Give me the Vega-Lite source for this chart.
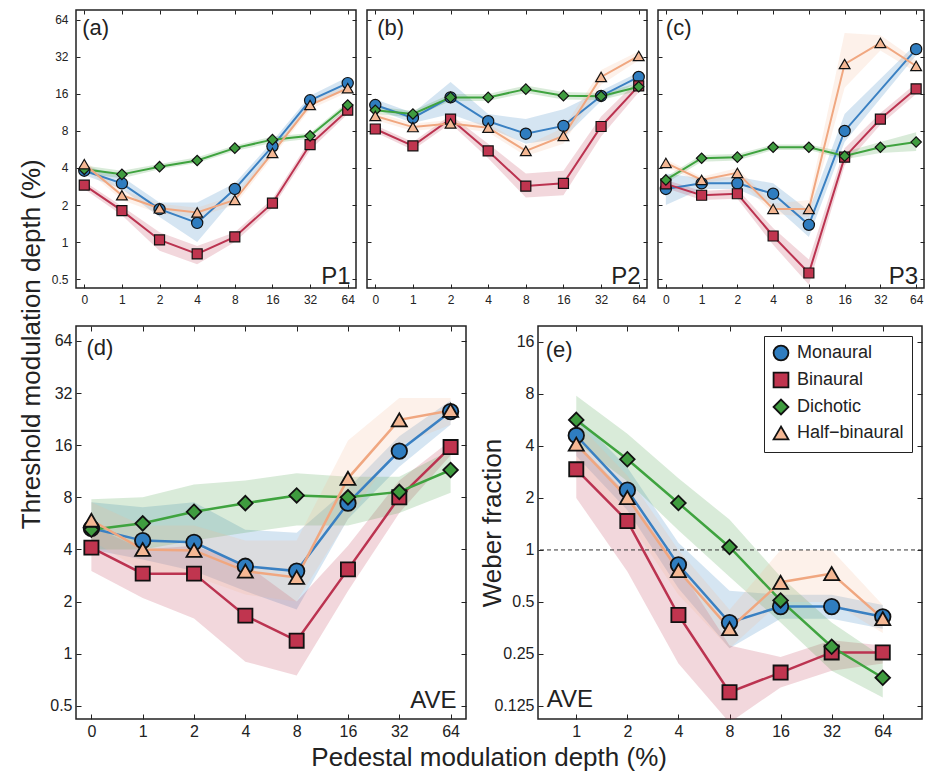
{
  "$schema": "https://vega.github.io/schema/vega-lite/v6.json",
  "padding": {"left": 19, "top": 8, "right": 0, "bottom": 4},
  "config": {
    "font": "Liberation Sans",
    "view": {"stroke": "#222", "strokeWidth": 1.5},
    "axis": {"grid": false, "domain": false, "tickColor": "#222", "labelColor": "#222", "titleColor": "#222", "titleFontWeight": "normal", "labelFont": "Liberation Sans", "titleFont": "Liberation Sans"},
    "title": {"fontWeight": "normal", "color": "#222", "font": "Liberation Sans"},
    "legend": {"labelFontSize": 18, "labelFont": "Liberation Sans", "labelColor": "#222", "symbolSize": 220, "symbolStrokeColor": "#111", "symbolStrokeWidth": 1.8, "strokeColor": "#222", "padding": 8, "rowPadding": 3, "labelOffset": 7, "fillColor": "white", "symbolOpacity": 1}
  },
  "datasets": {
    "a": [
      {"cond":"Monaural","ped":0,"thr":3.8,"lo":3.5,"hi":4.2},{"cond":"Monaural","ped":1,"thr":3.0,"lo":2.7,"hi":3.4},{"cond":"Monaural","ped":2,"thr":1.85,"lo":1.6,"hi":2.1},{"cond":"Monaural","ped":4,"thr":1.43,"lo":1.0,"hi":2.1},{"cond":"Monaural","ped":8,"thr":2.7,"lo":2.3,"hi":3.0},{"cond":"Monaural","ped":16,"thr":6.0,"lo":5.2,"hi":6.6},{"cond":"Monaural","ped":32,"thr":14.2,"lo":13,"hi":15.5},{"cond":"Monaural","ped":64,"thr":19.6,"lo":17.5,"hi":22},
      {"cond":"Binaural","ped":0,"thr":2.9,"lo":2.7,"hi":3.1},{"cond":"Binaural","ped":1,"thr":1.8,"lo":1.65,"hi":1.95},{"cond":"Binaural","ped":2,"thr":1.04,"lo":0.85,"hi":1.2},{"cond":"Binaural","ped":4,"thr":0.8,"lo":0.66,"hi":0.93},{"cond":"Binaural","ped":8,"thr":1.1,"lo":1.0,"hi":1.2},{"cond":"Binaural","ped":16,"thr":2.07,"lo":1.9,"hi":2.25},{"cond":"Binaural","ped":32,"thr":6.2,"lo":5.6,"hi":6.8},{"cond":"Binaural","ped":64,"thr":11.8,"lo":11,"hi":12.6},
      {"cond":"Dichotic","ped":0,"thr":3.9,"lo":3.6,"hi":4.2},{"cond":"Dichotic","ped":1,"thr":3.55,"lo":3.3,"hi":3.8},{"cond":"Dichotic","ped":2,"thr":4.1,"lo":3.9,"hi":4.3},{"cond":"Dichotic","ped":4,"thr":4.6,"lo":4.4,"hi":4.9},{"cond":"Dichotic","ped":8,"thr":5.8,"lo":5.5,"hi":6.1},{"cond":"Dichotic","ped":16,"thr":6.8,"lo":6.4,"hi":7.2},{"cond":"Dichotic","ped":32,"thr":7.3,"lo":6.9,"hi":7.7},{"cond":"Dichotic","ped":64,"thr":13,"lo":12.2,"hi":13.8},
      {"cond":"Half−binaural","ped":0,"thr":4.3,"lo":4.0,"hi":4.6},{"cond":"Half−binaural","ped":1,"thr":2.4,"lo":2.2,"hi":2.65},{"cond":"Half−binaural","ped":2,"thr":1.88,"lo":1.7,"hi":2.05},{"cond":"Half−binaural","ped":4,"thr":1.74,"lo":1.6,"hi":1.9},{"cond":"Half−binaural","ped":8,"thr":2.2,"lo":2.0,"hi":2.4},{"cond":"Half−binaural","ped":16,"thr":5.3,"lo":4.9,"hi":5.7},{"cond":"Half−binaural","ped":32,"thr":13,"lo":12,"hi":14},{"cond":"Half−binaural","ped":64,"thr":17.8,"lo":16.5,"hi":19}
    ],
    "b": [
      {"cond":"Monaural","ped":0,"thr":13,"lo":12,"hi":14.5},{"cond":"Monaural","ped":1,"thr":10.2,"lo":9.3,"hi":11.2},{"cond":"Monaural","ped":2,"thr":15,"lo":11,"hi":20},{"cond":"Monaural","ped":4,"thr":9.6,"lo":8.5,"hi":11},{"cond":"Monaural","ped":8,"thr":7.6,"lo":6.3,"hi":10},{"cond":"Monaural","ped":16,"thr":8.8,"lo":7,"hi":12},{"cond":"Monaural","ped":32,"thr":15.4,"lo":14,"hi":17},{"cond":"Monaural","ped":64,"thr":22,"lo":20,"hi":24},
      {"cond":"Binaural","ped":0,"thr":8.3,"lo":7.8,"hi":8.9},{"cond":"Binaural","ped":1,"thr":6.05,"lo":5.6,"hi":6.5},{"cond":"Binaural","ped":2,"thr":10,"lo":9.2,"hi":10.8},{"cond":"Binaural","ped":4,"thr":5.5,"lo":4.8,"hi":6.3},{"cond":"Binaural","ped":8,"thr":2.85,"lo":2.3,"hi":3.6},{"cond":"Binaural","ped":16,"thr":3.0,"lo":2.4,"hi":3.8},{"cond":"Binaural","ped":32,"thr":8.7,"lo":7.2,"hi":10.5},{"cond":"Binaural","ped":64,"thr":18.6,"lo":16.5,"hi":21},
      {"cond":"Dichotic","ped":0,"thr":11.8,"lo":11,"hi":12.6},{"cond":"Dichotic","ped":1,"thr":11,"lo":10.3,"hi":11.7},{"cond":"Dichotic","ped":2,"thr":15,"lo":14,"hi":16},{"cond":"Dichotic","ped":4,"thr":15,"lo":14,"hi":16},{"cond":"Dichotic","ped":8,"thr":17.5,"lo":16.3,"hi":18.7},{"cond":"Dichotic","ped":16,"thr":15.5,"lo":14.4,"hi":16.6},{"cond":"Dichotic","ped":32,"thr":15.3,"lo":14.3,"hi":16.3},{"cond":"Dichotic","ped":64,"thr":18.3,"lo":17,"hi":19.6},
      {"cond":"Half−binaural","ped":0,"thr":10.6,"lo":9.8,"hi":11.4},{"cond":"Half−binaural","ped":1,"thr":8.6,"lo":8,"hi":9.2},{"cond":"Half−binaural","ped":2,"thr":9.2,"lo":8.6,"hi":9.8},{"cond":"Half−binaural","ped":4,"thr":8.5,"lo":7.8,"hi":9.2},{"cond":"Half−binaural","ped":8,"thr":5.5,"lo":5,"hi":6.1},{"cond":"Half−binaural","ped":16,"thr":7.3,"lo":6.3,"hi":8.5},{"cond":"Half−binaural","ped":32,"thr":22,"lo":19,"hi":25},{"cond":"Half−binaural","ped":64,"thr":32.6,"lo":30,"hi":35.5}
    ],
    "c": [
      {"cond":"Monaural","ped":0,"thr":2.7,"lo":2.0,"hi":3.6},{"cond":"Monaural","ped":1,"thr":3.0,"lo":2.7,"hi":3.3},{"cond":"Monaural","ped":2,"thr":3.0,"lo":2.7,"hi":3.4},{"cond":"Monaural","ped":4,"thr":2.47,"lo":2.0,"hi":3.0},{"cond":"Monaural","ped":8,"thr":1.38,"lo":1.1,"hi":1.8},{"cond":"Monaural","ped":16,"thr":8.0,"lo":6.5,"hi":11},{"cond":"Monaural","ped":64,"thr":37,"lo":33,"hi":41},
      {"cond":"Binaural","ped":0,"thr":2.97,"lo":2.75,"hi":3.2},{"cond":"Binaural","ped":1,"thr":2.4,"lo":2.2,"hi":2.6},{"cond":"Binaural","ped":2,"thr":2.47,"lo":2.25,"hi":2.7},{"cond":"Binaural","ped":4,"thr":1.12,"lo":0.95,"hi":1.3},{"cond":"Binaural","ped":8,"thr":0.56,"lo":0.45,"hi":0.72},{"cond":"Binaural","ped":16,"thr":4.9,"lo":4.2,"hi":5.8},{"cond":"Binaural","ped":32,"thr":10,"lo":9,"hi":11.2},{"cond":"Binaural","ped":64,"thr":17.6,"lo":16,"hi":19.5},
      {"cond":"Dichotic","ped":0,"thr":3.2,"lo":3.0,"hi":3.4},{"cond":"Dichotic","ped":1,"thr":4.8,"lo":4.5,"hi":5.1},{"cond":"Dichotic","ped":2,"thr":4.9,"lo":4.6,"hi":5.2},{"cond":"Dichotic","ped":4,"thr":5.9,"lo":5.6,"hi":6.2},{"cond":"Dichotic","ped":8,"thr":5.9,"lo":5.6,"hi":6.2},{"cond":"Dichotic","ped":16,"thr":5.0,"lo":4.7,"hi":5.4},{"cond":"Dichotic","ped":32,"thr":5.9,"lo":5.3,"hi":6.5},{"cond":"Dichotic","ped":64,"thr":6.5,"lo":5.5,"hi":7.8},
      {"cond":"Half−binaural","ped":0,"thr":4.4,"lo":4.1,"hi":4.7},{"cond":"Half−binaural","ped":1,"thr":3.2,"lo":3.0,"hi":3.4},{"cond":"Half−binaural","ped":2,"thr":3.65,"lo":3.3,"hi":4.0},{"cond":"Half−binaural","ped":4,"thr":1.86,"lo":1.7,"hi":2.05},{"cond":"Half−binaural","ped":8,"thr":1.86,"lo":1.6,"hi":2.2},{"cond":"Half−binaural","ped":16,"thr":28,"lo":18,"hi":50},{"cond":"Half−binaural","ped":32,"thr":41.6,"lo":36,"hi":48},{"cond":"Half−binaural","ped":64,"thr":27,"lo":24,"hi":30}
    ],
    "d": [
      {"cond":"Monaural","ped":0,"thr":5.3,"lo":4.0,"hi":7.5},{"cond":"Monaural","ped":1,"thr":4.5,"lo":3.5,"hi":7.0},{"cond":"Monaural","ped":2,"thr":4.4,"lo":3.0,"hi":7.5},{"cond":"Monaural","ped":4,"thr":3.2,"lo":2.3,"hi":5.2},{"cond":"Monaural","ped":8,"thr":3.0,"lo":1.8,"hi":5.0},{"cond":"Monaural","ped":16,"thr":7.4,"lo":6.0,"hi":9.0},{"cond":"Monaural","ped":32,"thr":14.8,"lo":12,"hi":18},{"cond":"Monaural","ped":64,"thr":25,"lo":21,"hi":29},
      {"cond":"Binaural","ped":0,"thr":4.1,"lo":3.0,"hi":5.5},{"cond":"Binaural","ped":1,"thr":2.9,"lo":2.1,"hi":4.0},{"cond":"Binaural","ped":2,"thr":2.9,"lo":1.6,"hi":4.2},{"cond":"Binaural","ped":4,"thr":1.66,"lo":0.9,"hi":3.3},{"cond":"Binaural","ped":8,"thr":1.19,"lo":0.75,"hi":2.0},{"cond":"Binaural","ped":16,"thr":3.07,"lo":2.3,"hi":4.2},{"cond":"Binaural","ped":32,"thr":8.0,"lo":6.5,"hi":10},{"cond":"Binaural","ped":64,"thr":15.6,"lo":14,"hi":17},
      {"cond":"Dichotic","ped":0,"thr":5.2,"lo":4.0,"hi":7.8},{"cond":"Dichotic","ped":1,"thr":5.66,"lo":4.0,"hi":8.0},{"cond":"Dichotic","ped":2,"thr":6.6,"lo":4.5,"hi":9.5},{"cond":"Dichotic","ped":4,"thr":7.4,"lo":5.0,"hi":10},{"cond":"Dichotic","ped":8,"thr":8.2,"lo":5.5,"hi":11},{"cond":"Dichotic","ped":16,"thr":8.0,"lo":5.5,"hi":10.5},{"cond":"Dichotic","ped":32,"thr":8.6,"lo":6.5,"hi":10.5},{"cond":"Dichotic","ped":64,"thr":11.5,"lo":8.5,"hi":15},
      {"cond":"Half−binaural","ped":0,"thr":5.9,"lo":4.5,"hi":7.5},{"cond":"Half−binaural","ped":1,"thr":4.0,"lo":3.0,"hi":5.5},{"cond":"Half−binaural","ped":2,"thr":3.95,"lo":2.8,"hi":5.5},{"cond":"Half−binaural","ped":4,"thr":3.0,"lo":2.2,"hi":4.5},{"cond":"Half−binaural","ped":8,"thr":2.76,"lo":2.0,"hi":4.5},{"cond":"Half−binaural","ped":16,"thr":10.3,"lo":6,"hi":17},{"cond":"Half−binaural","ped":32,"thr":22.4,"lo":16,"hi":30},{"cond":"Half−binaural","ped":64,"thr":25.4,"lo":21,"hi":30}
    ],
    "e": [
      {"cond":"Monaural","ped":1,"thr":4.6,"lo":3.5,"hi":6},{"cond":"Monaural","ped":2,"thr":2.22,"lo":1.7,"hi":3.0},{"cond":"Monaural","ped":4,"thr":0.82,"lo":0.6,"hi":1.1},{"cond":"Monaural","ped":8,"thr":0.38,"lo":0.27,"hi":0.58},{"cond":"Monaural","ped":16,"thr":0.47,"lo":0.4,"hi":0.55},{"cond":"Monaural","ped":32,"thr":0.47,"lo":0.4,"hi":0.55},{"cond":"Monaural","ped":64,"thr":0.41,"lo":0.35,"hi":0.48},
      {"cond":"Binaural","ped":1,"thr":2.93,"lo":2.0,"hi":4.2},{"cond":"Binaural","ped":2,"thr":1.47,"lo":0.75,"hi":2.1},{"cond":"Binaural","ped":4,"thr":0.42,"lo":0.22,"hi":0.8},{"cond":"Binaural","ped":8,"thr":0.15,"lo":0.1,"hi":0.28},{"cond":"Binaural","ped":16,"thr":0.195,"lo":0.16,"hi":0.24},{"cond":"Binaural","ped":32,"thr":0.255,"lo":0.2,"hi":0.3},{"cond":"Binaural","ped":64,"thr":0.255,"lo":0.22,"hi":0.28},
      {"cond":"Dichotic","ped":1,"thr":5.66,"lo":4.2,"hi":7.8},{"cond":"Dichotic","ped":2,"thr":3.35,"lo":2.5,"hi":4.7},{"cond":"Dichotic","ped":4,"thr":1.87,"lo":1.3,"hi":2.6},{"cond":"Dichotic","ped":8,"thr":1.04,"lo":0.7,"hi":1.5},{"cond":"Dichotic","ped":16,"thr":0.51,"lo":0.38,"hi":0.7},{"cond":"Dichotic","ped":32,"thr":0.275,"lo":0.2,"hi":0.38},{"cond":"Dichotic","ped":64,"thr":0.182,"lo":0.14,"hi":0.24},
      {"cond":"Half−binaural","ped":1,"thr":4.1,"lo":3,"hi":5.5},{"cond":"Half−binaural","ped":2,"thr":2.01,"lo":1.5,"hi":2.7},{"cond":"Half−binaural","ped":4,"thr":0.76,"lo":0.55,"hi":1.0},{"cond":"Half−binaural","ped":8,"thr":0.35,"lo":0.27,"hi":0.45},{"cond":"Half−binaural","ped":16,"thr":0.65,"lo":0.5,"hi":1.0},{"cond":"Half−binaural","ped":32,"thr":0.73,"lo":0.5,"hi":1.0},{"cond":"Half−binaural","ped":64,"thr":0.4,"lo":0.33,"hi":0.48}
    ]
  },
  "title": {"text": "Pedestal modulation depth (%)", "orient": "bottom", "anchor": "middle", "fontSize": 26, "offset": 5, "dx": 17},
  "resolve": {"scale": {"x": "independent", "y": "independent", "size": "independent"}, "legend": {"fill": "independent", "shape": "independent"}},
  "vconcat": [
    {
      "title": {"text": "Threshold modulation depth (%)", "orient": "left", "anchor": "middle", "fontSize": 26, "offset": 4, "dx": 30},
      "spacing": 18,
      "resolve": {"scale": {"x": "independent", "y": "independent", "size": "independent"}, "legend": {"fill": "independent", "shape": "independent"}},
      "vconcat": [
        {
          "hconcat": [
            {
              "width": 280, "height": 278, "data": {"name": "a"},
              "resolve": {"axis": {"x": "independent", "y": "independent"}},
              "layer": [
                {"mark": {"type": "area", "opacity": 0.2, "clip": true},
                 "encoding": {
                   "x": {"field": "ped", "type": "ordinal", "scale": {"type": "point", "domain": [0,1,2,4,8,16,32,64], "padding": 0.22}, "axis": {"orient": "bottom", "title": null, "labelAngle": 0, "tickSize": -4, "labelPadding": 10, "labelFontSize": 12}},
                   "y": {"field": "lo", "type": "quantitative", "scale": {"type": "log", "base": 2, "domain": [0.423, 77], "nice": false}, "axis": {"orient": "left", "title": null, "values": [0.5,1,2,4,8,16,32,64], "format": "~g", "tickSize": -4, "labelPadding": 12, "labelFontSize": 12}},
                   "y2": {"field": "hi"},
                   "color": {"field": "cond", "type": "nominal", "scale": {"range": ["#c0354f","#3f9c3f","#f5b894","#2f7dc0"]}, "legend": null}
                 }},
                {"mark": {"type": "line", "strokeWidth": 2, "clip": true},
                 "encoding": {
                   "x": {"field": "ped", "type": "ordinal", "axis": {"orient": "top", "title": null, "labels": false, "tickSize": -4}},
                   "y": {"field": "thr", "type": "quantitative", "axis": {"orient": "right", "title": null, "labels": false, "values": [0.5,1,2,4,8,16,32,64], "tickSize": -4}},
                   "stroke": {"field": "cond", "type": "nominal", "scale": {"range": ["#bb3350","#3fa33f","#f0a780","#3a80c2"]}, "legend": null}
                 }},
                {"mark": {"type": "point", "filled": true, "opacity": 1, "stroke": "#111", "strokeWidth": 1.2},
                 "encoding": {
                   "x": {"field": "ped", "type": "ordinal", "axis": null},
                   "y": {"field": "thr", "type": "quantitative", "axis": null},
                   "fill": {"field": "cond", "type": "nominal", "scale": {"domain": ["Monaural","Binaural","Dichotic","Half−binaural"], "range": ["#2f7dc0","#c0354f","#3f9c3f","#f5b894"]}, "legend": null},
                   "shape": {"field": "cond", "type": "nominal", "scale": {"domain": ["Monaural","Binaural","Dichotic","Half−binaural"], "range": ["circle","square","diamond","triangle-up"]}, "legend": null},
                   "size": {"field": "cond", "type": "nominal", "scale": {"range": [100, 125, 180, 115]}, "legend": null}
                 }},
                {"data": {"values": [{}]},
                 "mark": {"type": "text", "text": "(a)", "align": "left", "baseline": "middle", "fontSize": 22, "dx": -2, "dy": 8, "color": "#222"},
                 "encoding": {"x": {"datum": 0, "type": "ordinal", "axis": null}, "y": {"datum": 64, "type": "quantitative", "axis": null}}},
                {"data": {"values": [{}]},
                 "mark": {"type": "text", "text": "P1", "align": "right", "baseline": "alphabetic", "fontSize": 24, "dx": 3, "dy": 5, "color": "#222"},
                 "encoding": {"x": {"datum": 64, "type": "ordinal", "axis": null}, "y": {"datum": 0.5, "type": "quantitative", "axis": null}}}
              ]
            },
            {
              "width": 280, "height": 278, "data": {"name": "b"},
              "resolve": {"axis": {"x": "independent", "y": "independent"}},
              "layer": [
                {"mark": {"type": "area", "opacity": 0.2, "clip": true},
                 "encoding": {
                   "x": {"field": "ped", "type": "ordinal", "scale": {"type": "point", "domain": [0,1,2,4,8,16,32,64], "padding": 0.22}, "axis": {"orient": "bottom", "title": null, "labelAngle": 0, "tickSize": -4, "labelPadding": 10, "labelFontSize": 12}},
                   "y": {"field": "lo", "type": "quantitative", "scale": {"type": "log", "base": 2, "domain": [0.423, 77], "nice": false}, "axis": {"orient": "left", "title": null, "labels": false, "values": [0.5,1,2,4,8,16,32,64], "tickSize": -4}},
                   "y2": {"field": "hi"},
                   "color": {"field": "cond", "type": "nominal", "scale": {"range": ["#c0354f","#3f9c3f","#f5b894","#2f7dc0"]}, "legend": null}
                 }},
                {"mark": {"type": "line", "strokeWidth": 2, "clip": true},
                 "encoding": {
                   "x": {"field": "ped", "type": "ordinal", "axis": {"orient": "top", "title": null, "labels": false, "tickSize": -4}},
                   "y": {"field": "thr", "type": "quantitative", "axis": {"orient": "right", "title": null, "labels": false, "values": [0.5,1,2,4,8,16,32,64], "tickSize": -4}},
                   "stroke": {"field": "cond", "type": "nominal", "scale": {"range": ["#bb3350","#3fa33f","#f0a780","#3a80c2"]}, "legend": null}
                 }},
                {"mark": {"type": "point", "filled": true, "opacity": 1, "stroke": "#111", "strokeWidth": 1.2},
                 "encoding": {
                   "x": {"field": "ped", "type": "ordinal", "axis": null},
                   "y": {"field": "thr", "type": "quantitative", "axis": null},
                   "fill": {"field": "cond", "type": "nominal", "scale": {"domain": ["Monaural","Binaural","Dichotic","Half−binaural"], "range": ["#2f7dc0","#c0354f","#3f9c3f","#f5b894"]}, "legend": null},
                   "shape": {"field": "cond", "type": "nominal", "scale": {"domain": ["Monaural","Binaural","Dichotic","Half−binaural"], "range": ["circle","square","diamond","triangle-up"]}, "legend": null},
                   "size": {"field": "cond", "type": "nominal", "scale": {"range": [100, 125, 180, 115]}, "legend": null}
                 }},
                {"data": {"values": [{}]},
                 "mark": {"type": "text", "text": "(b)", "align": "left", "baseline": "middle", "fontSize": 22, "dx": 2, "dy": 8, "color": "#222"},
                 "encoding": {"x": {"datum": 0, "type": "ordinal", "axis": null}, "y": {"datum": 64, "type": "quantitative", "axis": null}}},
                {"data": {"values": [{}]},
                 "mark": {"type": "text", "text": "P2", "align": "right", "baseline": "alphabetic", "fontSize": 24, "dx": 2, "dy": 5, "color": "#222"},
                 "encoding": {"x": {"datum": 64, "type": "ordinal", "axis": null}, "y": {"datum": 0.5, "type": "quantitative", "axis": null}}}
              ]
            },
            {
              "width": 266, "height": 278, "data": {"name": "c"},
              "resolve": {"axis": {"x": "independent", "y": "independent"}},
              "layer": [
                {"mark": {"type": "area", "opacity": 0.2, "clip": true},
                 "encoding": {
                   "x": {"field": "ped", "type": "ordinal", "scale": {"type": "point", "domain": [0,1,2,4,8,16,32,64], "padding": 0.22}, "axis": {"orient": "bottom", "title": null, "labelAngle": 0, "tickSize": -4, "labelPadding": 10, "labelFontSize": 12}},
                   "y": {"field": "lo", "type": "quantitative", "scale": {"type": "log", "base": 2, "domain": [0.423, 77], "nice": false}, "axis": {"orient": "left", "title": null, "labels": false, "values": [0.5,1,2,4,8,16,32,64], "tickSize": -4}},
                   "y2": {"field": "hi"},
                   "color": {"field": "cond", "type": "nominal", "scale": {"range": ["#c0354f","#3f9c3f","#f5b894","#2f7dc0"]}, "legend": null}
                 }},
                {"mark": {"type": "line", "strokeWidth": 2, "clip": true},
                 "encoding": {
                   "x": {"field": "ped", "type": "ordinal", "axis": {"orient": "top", "title": null, "labels": false, "tickSize": -4}},
                   "y": {"field": "thr", "type": "quantitative", "axis": {"orient": "right", "title": null, "labels": false, "values": [0.5,1,2,4,8,16,32,64], "tickSize": -4}},
                   "stroke": {"field": "cond", "type": "nominal", "scale": {"range": ["#bb3350","#3fa33f","#f0a780","#3a80c2"]}, "legend": null}
                 }},
                {"mark": {"type": "point", "filled": true, "opacity": 1, "stroke": "#111", "strokeWidth": 1.2},
                 "encoding": {
                   "x": {"field": "ped", "type": "ordinal", "axis": null},
                   "y": {"field": "thr", "type": "quantitative", "axis": null},
                   "fill": {"field": "cond", "type": "nominal", "scale": {"domain": ["Monaural","Binaural","Dichotic","Half−binaural"], "range": ["#2f7dc0","#c0354f","#3f9c3f","#f5b894"]}, "legend": null},
                   "shape": {"field": "cond", "type": "nominal", "scale": {"domain": ["Monaural","Binaural","Dichotic","Half−binaural"], "range": ["circle","square","diamond","triangle-up"]}, "legend": null},
                   "size": {"field": "cond", "type": "nominal", "scale": {"range": [100, 125, 180, 115]}, "legend": null}
                 }},
                {"data": {"values": [{}]},
                 "mark": {"type": "text", "text": "(c)", "align": "left", "baseline": "middle", "fontSize": 22, "dx": 0, "dy": 8, "color": "#222"},
                 "encoding": {"x": {"datum": 0, "type": "ordinal", "axis": null}, "y": {"datum": 64, "type": "quantitative", "axis": null}}},
                {"data": {"values": [{}]},
                 "mark": {"type": "text", "text": "P3", "align": "right", "baseline": "alphabetic", "fontSize": 24, "dx": 2, "dy": 5, "color": "#222"},
                 "encoding": {"x": {"datum": 64, "type": "ordinal", "axis": null}, "y": {"datum": 0.5, "type": "quantitative", "axis": null}}}
              ]
            }
          ],
          "bounds": "flush",
          "spacing": 11,
          "resolve": {"scale": {"x": "independent", "y": "independent", "size": "independent"}, "legend": {"fill": "independent", "shape": "independent"}}
        },
        {
          "hconcat": [
            {
              "width": 390, "height": 393, "data": {"name": "d"},
              "resolve": {"axis": {"x": "independent", "y": "independent"}},
              "layer": [
                {"mark": {"type": "area", "opacity": 0.2, "clip": true},
                 "encoding": {
                   "x": {"field": "ped", "type": "ordinal", "scale": {"type": "point", "domain": [0,1,2,4,8,16,32,64], "padding": 0.3}, "axis": {"orient": "bottom", "title": null, "labelAngle": 0, "tickSize": -5, "labelPadding": 9, "labelFontSize": 16}},
                   "y": {"field": "lo", "type": "quantitative", "scale": {"type": "log", "base": 2, "domain": [0.42, 78], "nice": false}, "axis": {"orient": "left", "title": null, "values": [0.5,1,2,4,8,16,32,64], "format": "~g", "tickSize": -5, "labelPadding": 9, "labelFontSize": 16}},
                   "y2": {"field": "hi"},
                   "color": {"field": "cond", "type": "nominal", "scale": {"range": ["#c0354f","#3f9c3f","#f5b894","#2f7dc0"]}, "legend": null}
                 }},
                {"mark": {"type": "line", "strokeWidth": 2.5, "clip": true},
                 "encoding": {
                   "x": {"field": "ped", "type": "ordinal", "axis": {"orient": "top", "title": null, "labels": false, "tickSize": -5}},
                   "y": {"field": "thr", "type": "quantitative", "axis": {"orient": "right", "title": null, "labels": false, "values": [0.5,1,2,4,8,16,32,64], "tickSize": -5}},
                   "stroke": {"field": "cond", "type": "nominal", "scale": {"range": ["#bb3350","#3fa33f","#f0a780","#3a80c2"]}, "legend": null}
                 }},
                {"mark": {"type": "point", "filled": true, "opacity": 1, "stroke": "#111", "strokeWidth": 1.8},
                 "encoding": {
                   "x": {"field": "ped", "type": "ordinal", "axis": null},
                   "y": {"field": "thr", "type": "quantitative", "axis": null},
                   "fill": {"field": "cond", "type": "nominal", "scale": {"domain": ["Monaural","Binaural","Dichotic","Half−binaural"], "range": ["#2f7dc0","#c0354f","#3f9c3f","#f5b894"]}, "legend": null},
                   "shape": {"field": "cond", "type": "nominal", "scale": {"domain": ["Monaural","Binaural","Dichotic","Half−binaural"], "range": ["circle","square","diamond","triangle-up"]}, "legend": null},
                   "size": {"field": "cond", "type": "nominal", "scale": {"range": [200, 240, 380, 230]}, "legend": null}
                 }},
                {"data": {"values": [{}]},
                 "mark": {"type": "text", "text": "(d)", "align": "left", "baseline": "middle", "fontSize": 22, "dx": -5, "dy": 7, "color": "#222"},
                 "encoding": {"x": {"datum": 0, "type": "ordinal", "axis": null}, "y": {"datum": 64, "type": "quantitative", "axis": null}}},
                {"data": {"values": [{}]},
                 "mark": {"type": "text", "text": "AVE", "align": "right", "baseline": "alphabetic", "fontSize": 24, "dx": 6, "dy": 2, "color": "#222"},
                 "encoding": {"x": {"datum": 64, "type": "ordinal", "axis": null}, "y": {"datum": 0.5, "type": "quantitative", "axis": null}}}
              ]
            },
            {
              "width": 384, "height": 393, "data": {"name": "e"},
              "resolve": {"axis": {"x": "independent", "y": "independent"}},
              "layer": [
                {"mark": {"type": "area", "opacity": 0.2, "clip": true},
                 "encoding": {
                   "x": {"field": "ped", "type": "quantitative", "scale": {"type": "log", "base": 2, "domain": [0.595, 109], "nice": false}, "axis": {"orient": "bottom", "title": null, "values": [1,2,4,8,16,32,64], "format": "~g", "tickSize": -5, "labelPadding": 9, "labelFontSize": 16}},
                   "y": {"field": "lo", "type": "quantitative", "scale": {"type": "log", "base": 2, "domain": [0.105, 19.8], "nice": false}, "axis": {"orient": "left", "title": "Weber fraction", "titleFontSize": 26, "titleX": -33, "values": [0.125,0.25,0.5,1,2,4,8,16], "format": "~g", "tickSize": -5, "labelPadding": 9, "labelFontSize": 16}},
                   "y2": {"field": "hi"},
                   "color": {"field": "cond", "type": "nominal", "scale": {"range": ["#c0354f","#3f9c3f","#f5b894","#2f7dc0"]}, "legend": null}
                 }},
                {"data": {"values": [{}]},
                 "mark": {"type": "rule", "strokeDash": [4, 3], "strokeWidth": 1, "color": "#333"},
                 "encoding": {"y": {"datum": 1, "type": "quantitative", "axis": null}}},
                {"mark": {"type": "line", "strokeWidth": 2.5, "clip": true},
                 "encoding": {
                   "x": {"field": "ped", "type": "quantitative", "axis": {"orient": "top", "title": null, "labels": false, "values": [1,2,4,8,16,32,64], "tickSize": -5}},
                   "y": {"field": "thr", "type": "quantitative", "axis": {"orient": "right", "title": null, "labels": false, "values": [0.125,0.25,0.5,1,2,4,8,16], "tickSize": -5}},
                   "stroke": {"field": "cond", "type": "nominal", "scale": {"range": ["#bb3350","#3fa33f","#f0a780","#3a80c2"]}, "legend": null}
                 }},
                {"mark": {"type": "point", "filled": true, "opacity": 1, "stroke": "#111", "strokeWidth": 1.8},
                 "encoding": {
                   "x": {"field": "ped", "type": "quantitative", "axis": null},
                   "y": {"field": "thr", "type": "quantitative", "axis": null},
                   "fill": {"field": "cond", "type": "nominal", "scale": {"domain": ["Monaural","Binaural","Dichotic","Half−binaural"], "range": ["#2f7dc0","#c0354f","#3f9c3f","#f5b894"]}, "legend": {"title": null, "orient": "top-right", "offset": 10, "symbolStrokeColor": "#111", "symbolStrokeWidth": 1.8, "encode": {"symbols": {"update": {"stroke": {"value": "#111"}, "strokeWidth": {"value": 1.8}}}}}},
                   "shape": {"field": "cond", "type": "nominal", "scale": {"domain": ["Monaural","Binaural","Dichotic","Half−binaural"], "range": ["circle","square","diamond","triangle-up"]}, "legend": {"title": null, "orient": "top-right", "offset": 10, "symbolStrokeColor": "#111", "symbolStrokeWidth": 1.8, "encode": {"symbols": {"update": {"stroke": {"value": "#111"}, "strokeWidth": {"value": 1.8}}}}}},
                   "size": {"field": "cond", "type": "nominal", "scale": {"range": [200, 240, 380, 230]}, "legend": null}
                 }},
                {"data": {"values": [{}]},
                 "mark": {"type": "text", "text": "(e)", "align": "left", "baseline": "middle", "fontSize": 22, "dx": 0, "dy": 8, "color": "#222"},
                 "encoding": {"x": {"datum": 0.66, "type": "quantitative", "axis": null}, "y": {"datum": 16, "type": "quantitative", "axis": null}}},
                {"data": {"values": [{}]},
                 "mark": {"type": "text", "text": "AVE", "align": "left", "baseline": "alphabetic", "fontSize": 24, "dx": 0, "dy": 1, "color": "#222"},
                 "encoding": {"x": {"datum": 0.67, "type": "quantitative", "axis": null}, "y": {"datum": 0.125, "type": "quantitative", "axis": null}}}
              ]
            }
          ],
          "bounds": "flush",
          "spacing": 72,
          "resolve": {"scale": {"x": "independent", "y": "independent", "size": "independent"}, "legend": {"fill": "independent", "shape": "independent"}}
        }
      ]
    }
  ]
}
